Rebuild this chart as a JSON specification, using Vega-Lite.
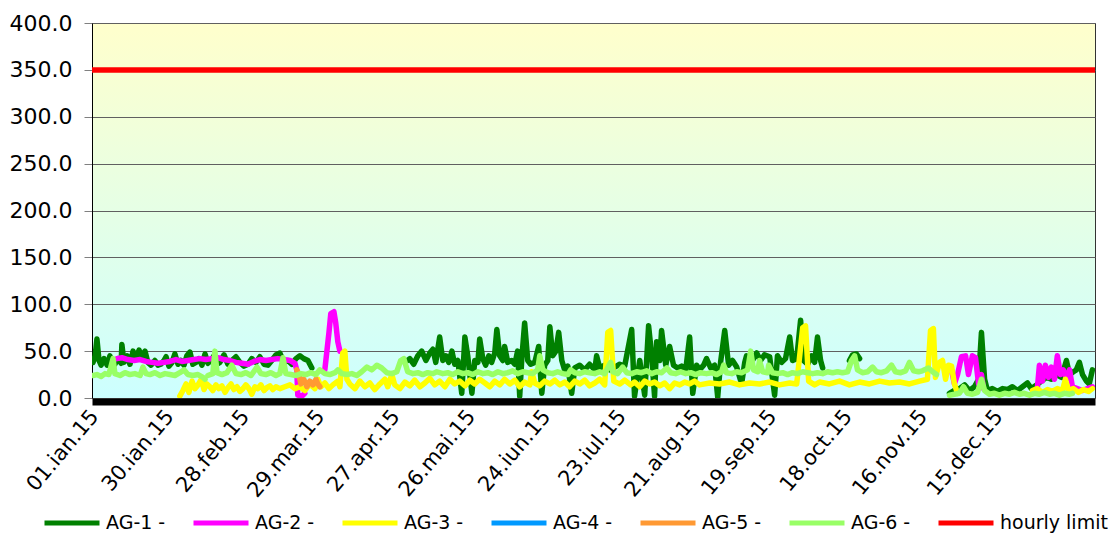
{
"$schema":"https://vega.github.io/schema/vega-lite/v6.json",
"width":1003,"height":375,
"autosize":{"type":"none"},
"padding":{"left":92,"top":23,"right":21,"bottom":135},
"background":"#ffffff",
"config":{
 "view":{"fill":{"gradient":"linear","x1":0,"y1":0,"x2":0,"y2":1,"stops":[{"offset":0,"color":"#FFFFCC"},{"offset":1,"color":"#CCFFFF"}]},"stroke":"#333333","strokeWidth":1},
 "font":"DejaVu Sans",
 "axis":{"labelFont":"DejaVu Sans","labelColor":"#000000","titleFont":"DejaVu Sans"}
},
"data":{"values":[
{"series":"AG-1 -","seg":"1a","day":0.4,"value":38},{"series":"AG-1 -","seg":"1a","day":1.2,"value":45},{"series":"AG-1 -","seg":"1a","day":1.9,"value":63},{"series":"AG-1 -","seg":"1a","day":2.7,"value":40},{"series":"AG-1 -","seg":"1a","day":3.5,"value":35},{"series":"AG-1 -","seg":"1a","day":4.6,"value":42},{"series":"AG-1 -","seg":"1a","day":5.8,"value":35},{"series":"AG-1 -","seg":"1a","day":6.9,"value":45},{"series":"AG-1 -","seg":"1a","day":7.7,"value":38},{"series":"AG-1 -","seg":"1a","day":8.8,"value":36},{"series":"AG-1 -","seg":"1a","day":10.0,"value":42},{"series":"AG-1 -","seg":"1a","day":11.2,"value":37},{"series":"AG-1 -","seg":"1a","day":11.5,"value":57},{"series":"AG-1 -","seg":"1a","day":12.3,"value":38},{"series":"AG-1 -","seg":"1a","day":13.5,"value":45},{"series":"AG-1 -","seg":"1a","day":14.6,"value":36},{"series":"AG-1 -","seg":"1a","day":15.8,"value":50},{"series":"AG-1 -","seg":"1a","day":16.9,"value":42},{"series":"AG-1 -","seg":"1a","day":18.1,"value":51},{"series":"AG-1 -","seg":"1a","day":19.2,"value":44},{"series":"AG-1 -","seg":"1a","day":20.4,"value":50},{"series":"AG-1 -","seg":"1a","day":21.5,"value":38},{"series":"AG-1 -","seg":"1a","day":22.7,"value":35},{"series":"AG-1 -","seg":"1a","day":24.2,"value":40},{"series":"AG-1 -","seg":"1a","day":25.4,"value":35},{"series":"AG-1 -","seg":"1a","day":26.5,"value":36},{"series":"AG-1 -","seg":"1a","day":27.7,"value":40},{"series":"AG-1 -","seg":"1a","day":28.5,"value":44},{"series":"AG-1 -","seg":"1a","day":29.6,"value":34},{"series":"AG-1 -","seg":"1a","day":30.8,"value":38},{"series":"AG-1 -","seg":"1a","day":31.9,"value":47},{"series":"AG-1 -","seg":"1a","day":33.1,"value":36},{"series":"AG-1 -","seg":"1a","day":34.2,"value":40},{"series":"AG-1 -","seg":"1a","day":35.4,"value":35},{"series":"AG-1 -","seg":"1a","day":36.5,"value":45},{"series":"AG-1 -","seg":"1a","day":37.7,"value":49},{"series":"AG-1 -","seg":"1a","day":38.8,"value":36},{"series":"AG-1 -","seg":"1a","day":40.0,"value":38},{"series":"AG-1 -","seg":"1a","day":41.2,"value":42},{"series":"AG-1 -","seg":"1a","day":42.3,"value":35},{"series":"AG-1 -","seg":"1a","day":43.5,"value":47},{"series":"AG-1 -","seg":"1a","day":44.6,"value":37},{"series":"AG-1 -","seg":"1a","day":45.8,"value":40},{"series":"AG-1 -","seg":"1a","day":46.9,"value":45},{"series":"AG-1 -","seg":"1a","day":48.1,"value":36},{"series":"AG-1 -","seg":"1a","day":49.2,"value":38},{"series":"AG-1 -","seg":"1a","day":50.8,"value":46},{"series":"AG-1 -","seg":"1a","day":52.3,"value":36},{"series":"AG-1 -","seg":"1a","day":53.8,"value":40},{"series":"AG-1 -","seg":"1a","day":55.4,"value":44},{"series":"AG-1 -","seg":"1a","day":56.9,"value":38},{"series":"AG-1 -","seg":"1a","day":58.5,"value":34},{"series":"AG-1 -","seg":"1a","day":60.0,"value":36},{"series":"AG-1 -","seg":"1a","day":61.5,"value":42},{"series":"AG-1 -","seg":"1a","day":63.1,"value":38},{"series":"AG-1 -","seg":"1a","day":64.6,"value":44},{"series":"AG-1 -","seg":"1a","day":66.2,"value":36},{"series":"AG-1 -","seg":"1a","day":67.7,"value":35},{"series":"AG-1 -","seg":"1a","day":69.2,"value":40},{"series":"AG-1 -","seg":"1a","day":70.8,"value":46},{"series":"AG-1 -","seg":"1a","day":72.3,"value":48},{"series":"AG-1 -","seg":"1a","day":73.8,"value":38},{"series":"AG-1 -","seg":"1a","day":75.4,"value":40},{"series":"AG-1 -","seg":"1a","day":76.9,"value":36},{"series":"AG-1 -","seg":"1a","day":78.5,"value":42},{"series":"AG-1 -","seg":"1a","day":80.0,"value":45},{"series":"AG-1 -","seg":"1a","day":81.5,"value":42},{"series":"AG-1 -","seg":"1a","day":83.1,"value":40},{"series":"AG-1 -","seg":"1a","day":84.6,"value":32},
{"series":"AG-1 -","seg":"1b","day":120.4,"value":38},{"series":"AG-1 -","seg":"1b","day":122.3,"value":42},{"series":"AG-1 -","seg":"1b","day":123.8,"value":36},{"series":"AG-1 -","seg":"1b","day":125.4,"value":45},{"series":"AG-1 -","seg":"1b","day":126.9,"value":50},{"series":"AG-1 -","seg":"1b","day":128.5,"value":40},{"series":"AG-1 -","seg":"1b","day":130.0,"value":48},{"series":"AG-1 -","seg":"1b","day":131.2,"value":52},{"series":"AG-1 -","seg":"1b","day":132.3,"value":38},{"series":"AG-1 -","seg":"1b","day":133.8,"value":65},{"series":"AG-1 -","seg":"1b","day":135.0,"value":40},{"series":"AG-1 -","seg":"1b","day":136.2,"value":45},{"series":"AG-1 -","seg":"1b","day":137.3,"value":38},{"series":"AG-1 -","seg":"1b","day":138.5,"value":50},{"series":"AG-1 -","seg":"1b","day":139.6,"value":36},{"series":"AG-1 -","seg":"1b","day":140.8,"value":40},{"series":"AG-1 -","seg":"1b","day":142.3,"value":5},{"series":"AG-1 -","seg":"1b","day":143.5,"value":65},{"series":"AG-1 -","seg":"1b","day":144.6,"value":45},{"series":"AG-1 -","seg":"1b","day":146.2,"value":5},{"series":"AG-1 -","seg":"1b","day":147.3,"value":40},{"series":"AG-1 -","seg":"1b","day":148.5,"value":38},{"series":"AG-1 -","seg":"1b","day":149.2,"value":63},{"series":"AG-1 -","seg":"1b","day":150.4,"value":42},{"series":"AG-1 -","seg":"1b","day":151.5,"value":35},{"series":"AG-1 -","seg":"1b","day":152.7,"value":45},{"series":"AG-1 -","seg":"1b","day":153.8,"value":38},{"series":"AG-1 -","seg":"1b","day":155.0,"value":48},{"series":"AG-1 -","seg":"1b","day":155.8,"value":73},{"series":"AG-1 -","seg":"1b","day":156.9,"value":45},{"series":"AG-1 -","seg":"1b","day":158.1,"value":40},{"series":"AG-1 -","seg":"1b","day":158.8,"value":55},{"series":"AG-1 -","seg":"1b","day":160.0,"value":38},{"series":"AG-1 -","seg":"1b","day":161.5,"value":40},{"series":"AG-1 -","seg":"1b","day":162.7,"value":36},{"series":"AG-1 -","seg":"1b","day":163.8,"value":50},{"series":"AG-1 -","seg":"1b","day":164.6,"value":2},{"series":"AG-1 -","seg":"1b","day":165.4,"value":42},{"series":"AG-1 -","seg":"1b","day":166.5,"value":80},{"series":"AG-1 -","seg":"1b","day":167.7,"value":40},{"series":"AG-1 -","seg":"1b","day":168.8,"value":36},{"series":"AG-1 -","seg":"1b","day":170.4,"value":38},{"series":"AG-1 -","seg":"1b","day":171.9,"value":55},{"series":"AG-1 -","seg":"1b","day":173.1,"value":5},{"series":"AG-1 -","seg":"1b","day":174.2,"value":35},{"series":"AG-1 -","seg":"1b","day":175.4,"value":40},{"series":"AG-1 -","seg":"1b","day":176.2,"value":76},{"series":"AG-1 -","seg":"1b","day":177.3,"value":45},{"series":"AG-1 -","seg":"1b","day":178.5,"value":50},{"series":"AG-1 -","seg":"1b","day":179.6,"value":70},{"series":"AG-1 -","seg":"1b","day":180.8,"value":40},{"series":"AG-1 -","seg":"1b","day":181.9,"value":30},{"series":"AG-1 -","seg":"1b","day":183.1,"value":34},{"series":"AG-1 -","seg":"1b","day":184.6,"value":5},{"series":"AG-1 -","seg":"1b","day":185.8,"value":32},{"series":"AG-1 -","seg":"1b","day":187.7,"value":35},{"series":"AG-1 -","seg":"1b","day":189.6,"value":30},{"series":"AG-1 -","seg":"1b","day":191.5,"value":36},{"series":"AG-1 -","seg":"1b","day":193.5,"value":30},{"series":"AG-1 -","seg":"1b","day":194.2,"value":45},{"series":"AG-1 -","seg":"1b","day":195.4,"value":32},{"series":"AG-1 -","seg":"1b","day":197.3,"value":35},{"series":"AG-1 -","seg":"1b","day":199.2,"value":30},{"series":"AG-1 -","seg":"1b","day":201.2,"value":33},{"series":"AG-1 -","seg":"1b","day":203.1,"value":36},{"series":"AG-1 -","seg":"1b","day":205.0,"value":34},{"series":"AG-1 -","seg":"1b","day":207.7,"value":73},{"series":"AG-1 -","seg":"1b","day":208.8,"value":2},{"series":"AG-1 -","seg":"1b","day":210.8,"value":40},{"series":"AG-1 -","seg":"1b","day":212.7,"value":3},{"series":"AG-1 -","seg":"1b","day":214.2,"value":77},{"series":"AG-1 -","seg":"1b","day":215.4,"value":45},{"series":"AG-1 -","seg":"1b","day":216.5,"value":2},{"series":"AG-1 -","seg":"1b","day":217.3,"value":60},{"series":"AG-1 -","seg":"1b","day":218.5,"value":40},{"series":"AG-1 -","seg":"1b","day":219.2,"value":72},{"series":"AG-1 -","seg":"1b","day":220.8,"value":35},{"series":"AG-1 -","seg":"1b","day":222.3,"value":55},{"series":"AG-1 -","seg":"1b","day":223.8,"value":35},{"series":"AG-1 -","seg":"1b","day":225.4,"value":32},{"series":"AG-1 -","seg":"1b","day":226.9,"value":34},{"series":"AG-1 -","seg":"1b","day":228.5,"value":30},{"series":"AG-1 -","seg":"1b","day":230.0,"value":65},{"series":"AG-1 -","seg":"1b","day":231.2,"value":5},{"series":"AG-1 -","seg":"1b","day":232.7,"value":35},{"series":"AG-1 -","seg":"1b","day":233.8,"value":30},{"series":"AG-1 -","seg":"1b","day":235.4,"value":35},{"series":"AG-1 -","seg":"1b","day":236.5,"value":42},{"series":"AG-1 -","seg":"1b","day":238.1,"value":32},{"series":"AG-1 -","seg":"1b","day":239.6,"value":35},{"series":"AG-1 -","seg":"1b","day":240.8,"value":1},{"series":"AG-1 -","seg":"1b","day":241.9,"value":38},{"series":"AG-1 -","seg":"1b","day":243.5,"value":72},{"series":"AG-1 -","seg":"1b","day":245.0,"value":35},{"series":"AG-1 -","seg":"1b","day":246.5,"value":40},{"series":"AG-1 -","seg":"1b","day":248.1,"value":33},{"series":"AG-1 -","seg":"1b","day":250.0,"value":15},{"series":"AG-1 -","seg":"1b","day":251.2,"value":38},{"series":"AG-1 -","seg":"1b","day":251.9,"value":45},{"series":"AG-1 -","seg":"1b","day":253.1,"value":35},{"series":"AG-1 -","seg":"1b","day":254.6,"value":42},{"series":"AG-1 -","seg":"1b","day":255.8,"value":48},{"series":"AG-1 -","seg":"1b","day":257.3,"value":40},{"series":"AG-1 -","seg":"1b","day":258.8,"value":46},{"series":"AG-1 -","seg":"1b","day":260.8,"value":44},{"series":"AG-1 -","seg":"1b","day":262.7,"value":3},{"series":"AG-1 -","seg":"1b","day":263.8,"value":45},{"series":"AG-1 -","seg":"1b","day":265.4,"value":38},{"series":"AG-1 -","seg":"1b","day":266.9,"value":42},{"series":"AG-1 -","seg":"1b","day":268.5,"value":65},{"series":"AG-1 -","seg":"1b","day":269.6,"value":40},{"series":"AG-1 -","seg":"1b","day":271.2,"value":42},{"series":"AG-1 -","seg":"1b","day":272.7,"value":83},{"series":"AG-1 -","seg":"1b","day":273.8,"value":40},{"series":"AG-1 -","seg":"1b","day":275.4,"value":36},{"series":"AG-1 -","seg":"1b","day":276.9,"value":45},{"series":"AG-1 -","seg":"1b","day":278.1,"value":38},{"series":"AG-1 -","seg":"1b","day":279.2,"value":65},{"series":"AG-1 -","seg":"1b","day":280.4,"value":40},{"series":"AG-1 -","seg":"1b","day":281.2,"value":32},
{"series":"AG-1 -","seg":"1c","day":291.5,"value":40},{"series":"AG-1 -","seg":"1c","day":292.7,"value":46},{"series":"AG-1 -","seg":"1c","day":294.2,"value":47},{"series":"AG-1 -","seg":"1c","day":295.4,"value":42},
{"series":"AG-1 -","seg":"1d","day":330.0,"value":5},{"series":"AG-1 -","seg":"1d","day":331.9,"value":8},{"series":"AG-1 -","seg":"1d","day":333.8,"value":10},{"series":"AG-1 -","seg":"1d","day":335.8,"value":14},{"series":"AG-1 -","seg":"1d","day":337.7,"value":8},{"series":"AG-1 -","seg":"1d","day":339.6,"value":12},{"series":"AG-1 -","seg":"1d","day":341.2,"value":20},{"series":"AG-1 -","seg":"1d","day":342.3,"value":70},{"series":"AG-1 -","seg":"1d","day":343.5,"value":20},{"series":"AG-1 -","seg":"1d","day":344.6,"value":8},{"series":"AG-1 -","seg":"1d","day":346.5,"value":10},{"series":"AG-1 -","seg":"1d","day":348.5,"value":7},{"series":"AG-1 -","seg":"1d","day":350.4,"value":10},{"series":"AG-1 -","seg":"1d","day":352.3,"value":9},{"series":"AG-1 -","seg":"1d","day":354.2,"value":12},{"series":"AG-1 -","seg":"1d","day":356.2,"value":8},{"series":"AG-1 -","seg":"1d","day":358.1,"value":12},{"series":"AG-1 -","seg":"1d","day":360.0,"value":16},{"series":"AG-1 -","seg":"1d","day":361.5,"value":10},{"series":"AG-1 -","seg":"1d","day":363.5,"value":14},{"series":"AG-1 -","seg":"1d","day":365.4,"value":18},{"series":"AG-1 -","seg":"1d","day":367.3,"value":22},{"series":"AG-1 -","seg":"1d","day":369.2,"value":20},{"series":"AG-1 -","seg":"1d","day":371.2,"value":25},{"series":"AG-1 -","seg":"1d","day":373.1,"value":22},{"series":"AG-1 -","seg":"1d","day":375.0,"value":40},{"series":"AG-1 -","seg":"1d","day":376.2,"value":25},{"series":"AG-1 -","seg":"1d","day":377.7,"value":28},{"series":"AG-1 -","seg":"1d","day":378.8,"value":30},{"series":"AG-1 -","seg":"1d","day":380.0,"value":38},{"series":"AG-1 -","seg":"1d","day":381.2,"value":25},{"series":"AG-1 -","seg":"1d","day":382.7,"value":18},{"series":"AG-1 -","seg":"1d","day":383.8,"value":15},{"series":"AG-1 -","seg":"1d","day":385.0,"value":30},
{"series":"AG-2 -","seg":"2a","day":9.6,"value":42},{"series":"AG-2 -","seg":"2a","day":11.5,"value":43},{"series":"AG-2 -","seg":"2a","day":13.8,"value":41},{"series":"AG-2 -","seg":"2a","day":16.2,"value":40},{"series":"AG-2 -","seg":"2a","day":18.5,"value":41},{"series":"AG-2 -","seg":"2a","day":20.8,"value":39},{"series":"AG-2 -","seg":"2a","day":23.1,"value":38},{"series":"AG-2 -","seg":"2a","day":25.4,"value":37},{"series":"AG-2 -","seg":"2a","day":27.7,"value":38},{"series":"AG-2 -","seg":"2a","day":30.0,"value":39},{"series":"AG-2 -","seg":"2a","day":32.3,"value":41},{"series":"AG-2 -","seg":"2a","day":34.6,"value":39},{"series":"AG-2 -","seg":"2a","day":36.9,"value":40},{"series":"AG-2 -","seg":"2a","day":39.2,"value":41},{"series":"AG-2 -","seg":"2a","day":41.5,"value":42},{"series":"AG-2 -","seg":"2a","day":43.8,"value":41},{"series":"AG-2 -","seg":"2a","day":46.2,"value":42},{"series":"AG-2 -","seg":"2a","day":48.5,"value":43},{"series":"AG-2 -","seg":"2a","day":50.8,"value":41},{"series":"AG-2 -","seg":"2a","day":53.1,"value":40},{"series":"AG-2 -","seg":"2a","day":55.4,"value":38},{"series":"AG-2 -","seg":"2a","day":57.7,"value":37},{"series":"AG-2 -","seg":"2a","day":60.0,"value":36},{"series":"AG-2 -","seg":"2a","day":62.3,"value":39},{"series":"AG-2 -","seg":"2a","day":64.6,"value":41},{"series":"AG-2 -","seg":"2a","day":66.9,"value":40},{"series":"AG-2 -","seg":"2a","day":69.2,"value":41},{"series":"AG-2 -","seg":"2a","day":71.5,"value":42},{"series":"AG-2 -","seg":"2a","day":73.8,"value":41},{"series":"AG-2 -","seg":"2a","day":76.2,"value":40},{"series":"AG-2 -","seg":"2a","day":78.1,"value":37},{"series":"AG-2 -","seg":"2a","day":78.8,"value":30},{"series":"AG-2 -","seg":"2a","day":79.2,"value":3},{"series":"AG-2 -","seg":"2a","day":80.8,"value":2},{"series":"AG-2 -","seg":"2a","day":81.9,"value":5},
{"series":"AG-2 -","seg":"2b","day":89.6,"value":30},{"series":"AG-2 -","seg":"2b","day":91.2,"value":70},{"series":"AG-2 -","seg":"2b","day":91.9,"value":90},{"series":"AG-2 -","seg":"2b","day":93.1,"value":92},{"series":"AG-2 -","seg":"2b","day":93.8,"value":80},{"series":"AG-2 -","seg":"2b","day":94.6,"value":60},{"series":"AG-2 -","seg":"2b","day":95.4,"value":50},
{"series":"AG-2 -","seg":"2c","day":330.8,"value":30},{"series":"AG-2 -","seg":"2c","day":331.9,"value":15},{"series":"AG-2 -","seg":"2c","day":333.1,"value":25},{"series":"AG-2 -","seg":"2c","day":334.6,"value":44},{"series":"AG-2 -","seg":"2c","day":336.2,"value":45},{"series":"AG-2 -","seg":"2c","day":337.3,"value":25},{"series":"AG-2 -","seg":"2c","day":338.8,"value":45},{"series":"AG-2 -","seg":"2c","day":340.0,"value":43},{"series":"AG-2 -","seg":"2c","day":341.2,"value":15},{"series":"AG-2 -","seg":"2c","day":342.3,"value":25},{"series":"AG-2 -","seg":"2c","day":343.1,"value":10},
{"series":"AG-2 -","seg":"2d","day":363.8,"value":10},{"series":"AG-2 -","seg":"2d","day":364.6,"value":35},{"series":"AG-2 -","seg":"2d","day":365.8,"value":18},{"series":"AG-2 -","seg":"2d","day":366.9,"value":35},{"series":"AG-2 -","seg":"2d","day":368.1,"value":22},{"series":"AG-2 -","seg":"2d","day":369.2,"value":33},{"series":"AG-2 -","seg":"2d","day":370.4,"value":20},{"series":"AG-2 -","seg":"2d","day":371.5,"value":45},{"series":"AG-2 -","seg":"2d","day":372.7,"value":25},{"series":"AG-2 -","seg":"2d","day":373.8,"value":30},{"series":"AG-2 -","seg":"2d","day":375.0,"value":20},{"series":"AG-2 -","seg":"2d","day":376.2,"value":30},{"series":"AG-2 -","seg":"2d","day":377.3,"value":12},{"series":"AG-2 -","seg":"2d","day":379.2,"value":10},{"series":"AG-2 -","seg":"2d","day":381.2,"value":8},{"series":"AG-2 -","seg":"2d","day":383.1,"value":10},{"series":"AG-2 -","seg":"2d","day":385.0,"value":12},
{"series":"AG-3 -","seg":"3a","day":33.8,"value":2},{"series":"AG-3 -","seg":"3a","day":35.0,"value":8},{"series":"AG-3 -","seg":"3a","day":36.2,"value":15},{"series":"AG-3 -","seg":"3a","day":37.3,"value":6},{"series":"AG-3 -","seg":"3a","day":38.5,"value":18},{"series":"AG-3 -","seg":"3a","day":39.6,"value":10},{"series":"AG-3 -","seg":"3a","day":40.8,"value":14},{"series":"AG-3 -","seg":"3a","day":42.1,"value":20},{"series":"AG-3 -","seg":"3a","day":43.1,"value":9},{"series":"AG-3 -","seg":"3a","day":44.2,"value":15},{"series":"AG-3 -","seg":"3a","day":45.4,"value":12},{"series":"AG-3 -","seg":"3a","day":46.5,"value":8},{"series":"AG-3 -","seg":"3a","day":47.7,"value":14},{"series":"AG-3 -","seg":"3a","day":48.8,"value":10},{"series":"AG-3 -","seg":"3a","day":50.0,"value":13},{"series":"AG-3 -","seg":"3a","day":51.2,"value":6},{"series":"AG-3 -","seg":"3a","day":52.3,"value":11},{"series":"AG-3 -","seg":"3a","day":53.5,"value":15},{"series":"AG-3 -","seg":"3a","day":54.6,"value":9},{"series":"AG-3 -","seg":"3a","day":55.8,"value":12},{"series":"AG-3 -","seg":"3a","day":56.9,"value":7},{"series":"AG-3 -","seg":"3a","day":58.1,"value":10},{"series":"AG-3 -","seg":"3a","day":59.2,"value":14},{"series":"AG-3 -","seg":"3a","day":60.4,"value":10},{"series":"AG-3 -","seg":"3a","day":61.5,"value":4},{"series":"AG-3 -","seg":"3a","day":62.7,"value":12},{"series":"AG-3 -","seg":"3a","day":63.8,"value":10},{"series":"AG-3 -","seg":"3a","day":65.0,"value":14},{"series":"AG-3 -","seg":"3a","day":66.2,"value":8},{"series":"AG-3 -","seg":"3a","day":67.3,"value":11},{"series":"AG-3 -","seg":"3a","day":68.5,"value":13},{"series":"AG-3 -","seg":"3a","day":69.6,"value":9},{"series":"AG-3 -","seg":"3a","day":70.8,"value":12},{"series":"AG-3 -","seg":"3a","day":72.3,"value":10},{"series":"AG-3 -","seg":"3a","day":74.2,"value":12},{"series":"AG-3 -","seg":"3a","day":76.2,"value":14},{"series":"AG-3 -","seg":"3a","day":78.1,"value":10},{"series":"AG-3 -","seg":"3a","day":80.0,"value":12},{"series":"AG-3 -","seg":"3a","day":81.9,"value":8},{"series":"AG-3 -","seg":"3a","day":83.8,"value":15},{"series":"AG-3 -","seg":"3a","day":85.8,"value":10},{"series":"AG-3 -","seg":"3a","day":86.9,"value":20},{"series":"AG-3 -","seg":"3a","day":88.1,"value":12},{"series":"AG-3 -","seg":"3a","day":89.6,"value":16},{"series":"AG-3 -","seg":"3a","day":91.2,"value":10},{"series":"AG-3 -","seg":"3a","day":92.7,"value":14},{"series":"AG-3 -","seg":"3a","day":94.6,"value":18},{"series":"AG-3 -","seg":"3a","day":95.4,"value":12},{"series":"AG-3 -","seg":"3a","day":96.5,"value":48},{"series":"AG-3 -","seg":"3a","day":97.3,"value":50},{"series":"AG-3 -","seg":"3a","day":98.1,"value":20},{"series":"AG-3 -","seg":"3a","day":99.2,"value":15},{"series":"AG-3 -","seg":"3a","day":101.2,"value":10},{"series":"AG-3 -","seg":"3a","day":103.1,"value":18},{"series":"AG-3 -","seg":"3a","day":105.0,"value":12},{"series":"AG-3 -","seg":"3a","day":106.9,"value":16},{"series":"AG-3 -","seg":"3a","day":108.8,"value":9},{"series":"AG-3 -","seg":"3a","day":110.8,"value":15},{"series":"AG-3 -","seg":"3a","day":112.7,"value":20},{"series":"AG-3 -","seg":"3a","day":113.8,"value":12},{"series":"AG-3 -","seg":"3a","day":115.4,"value":25},{"series":"AG-3 -","seg":"3a","day":116.5,"value":14},{"series":"AG-3 -","seg":"3a","day":118.5,"value":10},{"series":"AG-3 -","seg":"3a","day":120.4,"value":17},{"series":"AG-3 -","seg":"3a","day":122.3,"value":13},{"series":"AG-3 -","seg":"3a","day":124.2,"value":19},{"series":"AG-3 -","seg":"3a","day":126.2,"value":12},{"series":"AG-3 -","seg":"3a","day":128.1,"value":16},{"series":"AG-3 -","seg":"3a","day":130.0,"value":21},{"series":"AG-3 -","seg":"3a","day":131.9,"value":14},{"series":"AG-3 -","seg":"3a","day":133.8,"value":18},{"series":"AG-3 -","seg":"3a","day":135.8,"value":12},{"series":"AG-3 -","seg":"3a","day":137.7,"value":20},{"series":"AG-3 -","seg":"3a","day":139.6,"value":15},{"series":"AG-3 -","seg":"3a","day":141.5,"value":18},{"series":"AG-3 -","seg":"3a","day":143.5,"value":13},{"series":"AG-3 -","seg":"3a","day":145.4,"value":19},{"series":"AG-3 -","seg":"3a","day":147.3,"value":15},{"series":"AG-3 -","seg":"3a","day":149.2,"value":20},{"series":"AG-3 -","seg":"3a","day":151.2,"value":16},{"series":"AG-3 -","seg":"3a","day":153.1,"value":12},{"series":"AG-3 -","seg":"3a","day":155.0,"value":18},{"series":"AG-3 -","seg":"3a","day":156.9,"value":14},{"series":"AG-3 -","seg":"3a","day":158.8,"value":20},{"series":"AG-3 -","seg":"3a","day":160.8,"value":15},{"series":"AG-3 -","seg":"3a","day":162.7,"value":19},{"series":"AG-3 -","seg":"3a","day":164.6,"value":12},{"series":"AG-3 -","seg":"3a","day":166.5,"value":17},{"series":"AG-3 -","seg":"3a","day":168.5,"value":14},{"series":"AG-3 -","seg":"3a","day":169.2,"value":28},{"series":"AG-3 -","seg":"3a","day":170.4,"value":16},{"series":"AG-3 -","seg":"3a","day":172.3,"value":13},{"series":"AG-3 -","seg":"3a","day":174.2,"value":18},{"series":"AG-3 -","seg":"3a","day":176.2,"value":15},{"series":"AG-3 -","seg":"3a","day":178.1,"value":19},{"series":"AG-3 -","seg":"3a","day":180.0,"value":14},{"series":"AG-3 -","seg":"3a","day":181.9,"value":17},{"series":"AG-3 -","seg":"3a","day":183.8,"value":12},{"series":"AG-3 -","seg":"3a","day":185.8,"value":18},{"series":"AG-3 -","seg":"3a","day":187.7,"value":15},{"series":"AG-3 -","seg":"3a","day":189.6,"value":19},{"series":"AG-3 -","seg":"3a","day":191.5,"value":13},{"series":"AG-3 -","seg":"3a","day":193.5,"value":16},{"series":"AG-3 -","seg":"3a","day":195.4,"value":20},{"series":"AG-3 -","seg":"3a","day":197.3,"value":14},{"series":"AG-3 -","seg":"3a","day":198.5,"value":70},{"series":"AG-3 -","seg":"3a","day":199.6,"value":72},{"series":"AG-3 -","seg":"3a","day":200.8,"value":18},{"series":"AG-3 -","seg":"3a","day":203.1,"value":15},{"series":"AG-3 -","seg":"3a","day":205.0,"value":19},{"series":"AG-3 -","seg":"3a","day":207.3,"value":14},{"series":"AG-3 -","seg":"3a","day":208.8,"value":17},{"series":"AG-3 -","seg":"3a","day":210.8,"value":12},{"series":"AG-3 -","seg":"3a","day":212.7,"value":18},{"series":"AG-3 -","seg":"3a","day":214.6,"value":15},{"series":"AG-3 -","seg":"3a","day":216.5,"value":17},{"series":"AG-3 -","seg":"3a","day":218.5,"value":13},{"series":"AG-3 -","seg":"3a","day":220.4,"value":16},{"series":"AG-3 -","seg":"3a","day":222.3,"value":10},{"series":"AG-3 -","seg":"3a","day":224.2,"value":16},{"series":"AG-3 -","seg":"3a","day":226.2,"value":14},{"series":"AG-3 -","seg":"3a","day":228.1,"value":17},{"series":"AG-3 -","seg":"3a","day":230.0,"value":15},{"series":"AG-3 -","seg":"3a","day":231.9,"value":18},{"series":"AG-3 -","seg":"3a","day":233.8,"value":14},{"series":"AG-3 -","seg":"3a","day":237.7,"value":16},{"series":"AG-3 -","seg":"3a","day":241.5,"value":15},{"series":"AG-3 -","seg":"3a","day":245.4,"value":17},{"series":"AG-3 -","seg":"3a","day":249.2,"value":14},{"series":"AG-3 -","seg":"3a","day":253.1,"value":16},{"series":"AG-3 -","seg":"3a","day":256.9,"value":15},{"series":"AG-3 -","seg":"3a","day":260.8,"value":17},{"series":"AG-3 -","seg":"3a","day":264.6,"value":14},{"series":"AG-3 -","seg":"3a","day":268.5,"value":16},{"series":"AG-3 -","seg":"3a","day":271.2,"value":15},{"series":"AG-3 -","seg":"3a","day":273.5,"value":75},{"series":"AG-3 -","seg":"3a","day":274.6,"value":77},{"series":"AG-3 -","seg":"3a","day":275.8,"value":18},{"series":"AG-3 -","seg":"3a","day":278.1,"value":14},{"series":"AG-3 -","seg":"3a","day":280.0,"value":17},{"series":"AG-3 -","seg":"3a","day":283.8,"value":15},{"series":"AG-3 -","seg":"3a","day":287.7,"value":18},{"series":"AG-3 -","seg":"3a","day":291.5,"value":14},{"series":"AG-3 -","seg":"3a","day":295.4,"value":17},{"series":"AG-3 -","seg":"3a","day":299.2,"value":15},{"series":"AG-3 -","seg":"3a","day":303.1,"value":18},{"series":"AG-3 -","seg":"3a","day":306.9,"value":16},{"series":"AG-3 -","seg":"3a","day":310.8,"value":17},{"series":"AG-3 -","seg":"3a","day":314.6,"value":15},{"series":"AG-3 -","seg":"3a","day":318.5,"value":18},{"series":"AG-3 -","seg":"3a","day":321.5,"value":20},{"series":"AG-3 -","seg":"3a","day":322.7,"value":72},{"series":"AG-3 -","seg":"3a","day":323.8,"value":74},{"series":"AG-3 -","seg":"3a","day":324.6,"value":22},{"series":"AG-3 -","seg":"3a","day":326.2,"value":38},{"series":"AG-3 -","seg":"3a","day":327.3,"value":40},{"series":"AG-3 -","seg":"3a","day":328.5,"value":20},{"series":"AG-3 -","seg":"3a","day":329.6,"value":35},{"series":"AG-3 -","seg":"3a","day":330.8,"value":34},{"series":"AG-3 -","seg":"3a","day":331.9,"value":15},{"series":"AG-3 -","seg":"3a","day":333.1,"value":5},
{"series":"AG-3 -","seg":"3b","day":361.9,"value":8},{"series":"AG-3 -","seg":"3b","day":363.8,"value":10},{"series":"AG-3 -","seg":"3b","day":365.8,"value":6},{"series":"AG-3 -","seg":"3b","day":367.7,"value":9},{"series":"AG-3 -","seg":"3b","day":369.6,"value":7},{"series":"AG-3 -","seg":"3b","day":371.5,"value":10},{"series":"AG-3 -","seg":"3b","day":373.5,"value":8},{"series":"AG-3 -","seg":"3b","day":374.6,"value":20},{"series":"AG-3 -","seg":"3b","day":375.8,"value":8},{"series":"AG-3 -","seg":"3b","day":377.7,"value":10},{"series":"AG-3 -","seg":"3b","day":379.6,"value":6},{"series":"AG-3 -","seg":"3b","day":381.5,"value":9},{"series":"AG-3 -","seg":"3b","day":383.5,"value":7},{"series":"AG-3 -","seg":"3b","day":385.0,"value":10},
{"series":"AG-5 -","seg":"5a","day":78.8,"value":30},{"series":"AG-5 -","seg":"5a","day":79.6,"value":25},{"series":"AG-5 -","seg":"5a","day":80.4,"value":15},{"series":"AG-5 -","seg":"5a","day":81.5,"value":20},{"series":"AG-5 -","seg":"5a","day":82.7,"value":12},{"series":"AG-5 -","seg":"5a","day":83.8,"value":18},{"series":"AG-5 -","seg":"5a","day":85.0,"value":14},{"series":"AG-5 -","seg":"5a","day":86.2,"value":20},{"series":"AG-5 -","seg":"5a","day":86.9,"value":15},{"series":"AG-5 -","seg":"5a","day":87.7,"value":12},
{"series":"AG-6 -","seg":"6a","day":0.4,"value":24},{"series":"AG-6 -","seg":"6a","day":1.9,"value":25},{"series":"AG-6 -","seg":"6a","day":3.5,"value":23},{"series":"AG-6 -","seg":"6a","day":5.0,"value":26},{"series":"AG-6 -","seg":"6a","day":6.5,"value":25},{"series":"AG-6 -","seg":"6a","day":8.1,"value":42},{"series":"AG-6 -","seg":"6a","day":8.8,"value":26},{"series":"AG-6 -","seg":"6a","day":10.8,"value":24},{"series":"AG-6 -","seg":"6a","day":12.7,"value":27},{"series":"AG-6 -","seg":"6a","day":14.6,"value":25},{"series":"AG-6 -","seg":"6a","day":16.5,"value":26},{"series":"AG-6 -","seg":"6a","day":18.5,"value":24},{"series":"AG-6 -","seg":"6a","day":19.6,"value":33},{"series":"AG-6 -","seg":"6a","day":20.8,"value":26},{"series":"AG-6 -","seg":"6a","day":22.3,"value":25},{"series":"AG-6 -","seg":"6a","day":24.2,"value":27},{"series":"AG-6 -","seg":"6a","day":26.2,"value":24},{"series":"AG-6 -","seg":"6a","day":28.1,"value":26},{"series":"AG-6 -","seg":"6a","day":30.0,"value":25},{"series":"AG-6 -","seg":"6a","day":31.9,"value":24},{"series":"AG-6 -","seg":"6a","day":33.8,"value":27},{"series":"AG-6 -","seg":"6a","day":35.4,"value":30},{"series":"AG-6 -","seg":"6a","day":36.9,"value":25},{"series":"AG-6 -","seg":"6a","day":38.8,"value":24},{"series":"AG-6 -","seg":"6a","day":40.8,"value":25},{"series":"AG-6 -","seg":"6a","day":42.7,"value":22},{"series":"AG-6 -","seg":"6a","day":43.5,"value":20},
{"series":"AG-6 -","seg":"6b","day":44.6,"value":24},{"series":"AG-6 -","seg":"6b","day":46.5,"value":26},{"series":"AG-6 -","seg":"6b","day":47.3,"value":50},{"series":"AG-6 -","seg":"6b","day":48.1,"value":27},{"series":"AG-6 -","seg":"6b","day":50.0,"value":25},{"series":"AG-6 -","seg":"6b","day":51.9,"value":27},{"series":"AG-6 -","seg":"6b","day":53.8,"value":35},{"series":"AG-6 -","seg":"6b","day":55.4,"value":26},{"series":"AG-6 -","seg":"6b","day":57.3,"value":25},{"series":"AG-6 -","seg":"6b","day":59.2,"value":27},{"series":"AG-6 -","seg":"6b","day":61.2,"value":24},{"series":"AG-6 -","seg":"6b","day":63.5,"value":33},{"series":"AG-6 -","seg":"6b","day":65.0,"value":26},{"series":"AG-6 -","seg":"6b","day":66.9,"value":25},{"series":"AG-6 -","seg":"6b","day":68.8,"value":27},{"series":"AG-6 -","seg":"6b","day":70.8,"value":24},{"series":"AG-6 -","seg":"6b","day":72.3,"value":26},{"series":"AG-6 -","seg":"6b","day":73.5,"value":43},{"series":"AG-6 -","seg":"6b","day":74.6,"value":26},{"series":"AG-6 -","seg":"6b","day":76.5,"value":25},{"series":"AG-6 -","seg":"6b","day":78.5,"value":24},{"series":"AG-6 -","seg":"6b","day":80.4,"value":26},{"series":"AG-6 -","seg":"6b","day":82.3,"value":25},{"series":"AG-6 -","seg":"6b","day":84.2,"value":27},{"series":"AG-6 -","seg":"6b","day":86.2,"value":25},{"series":"AG-6 -","seg":"6b","day":87.7,"value":30},{"series":"AG-6 -","seg":"6b","day":89.6,"value":26},{"series":"AG-6 -","seg":"6b","day":91.5,"value":25},{"series":"AG-6 -","seg":"6b","day":93.5,"value":27},{"series":"AG-6 -","seg":"6b","day":94.6,"value":30},{"series":"AG-6 -","seg":"6b","day":96.2,"value":26},{"series":"AG-6 -","seg":"6b","day":98.1,"value":25},{"series":"AG-6 -","seg":"6b","day":100.0,"value":26},{"series":"AG-6 -","seg":"6b","day":101.9,"value":24},{"series":"AG-6 -","seg":"6b","day":103.8,"value":28},{"series":"AG-6 -","seg":"6b","day":105.8,"value":33},{"series":"AG-6 -","seg":"6b","day":107.7,"value":30},{"series":"AG-6 -","seg":"6b","day":109.6,"value":35},{"series":"AG-6 -","seg":"6b","day":111.5,"value":32},{"series":"AG-6 -","seg":"6b","day":113.5,"value":27},{"series":"AG-6 -","seg":"6b","day":115.4,"value":26},{"series":"AG-6 -","seg":"6b","day":117.3,"value":28},{"series":"AG-6 -","seg":"6b","day":118.8,"value":40},{"series":"AG-6 -","seg":"6b","day":120.0,"value":42},{"series":"AG-6 -","seg":"6b","day":121.5,"value":28},{"series":"AG-6 -","seg":"6b","day":123.5,"value":26},{"series":"AG-6 -","seg":"6b","day":125.4,"value":27},{"series":"AG-6 -","seg":"6b","day":127.3,"value":25},{"series":"AG-6 -","seg":"6b","day":129.2,"value":27},{"series":"AG-6 -","seg":"6b","day":131.2,"value":26},{"series":"AG-6 -","seg":"6b","day":132.7,"value":28},{"series":"AG-6 -","seg":"6b","day":135.0,"value":26},{"series":"AG-6 -","seg":"6b","day":136.9,"value":27},{"series":"AG-6 -","seg":"6b","day":138.8,"value":25},{"series":"AG-6 -","seg":"6b","day":140.8,"value":28},{"series":"AG-6 -","seg":"6b","day":142.7,"value":26},{"series":"AG-6 -","seg":"6b","day":144.6,"value":27},{"series":"AG-6 -","seg":"6b","day":146.5,"value":25},{"series":"AG-6 -","seg":"6b","day":148.5,"value":28},{"series":"AG-6 -","seg":"6b","day":150.4,"value":26},{"series":"AG-6 -","seg":"6b","day":152.3,"value":27},{"series":"AG-6 -","seg":"6b","day":154.2,"value":25},{"series":"AG-6 -","seg":"6b","day":156.2,"value":28},{"series":"AG-6 -","seg":"6b","day":158.1,"value":26},{"series":"AG-6 -","seg":"6b","day":160.0,"value":27},{"series":"AG-6 -","seg":"6b","day":161.9,"value":29},{"series":"AG-6 -","seg":"6b","day":163.8,"value":26},{"series":"AG-6 -","seg":"6b","day":165.8,"value":28},{"series":"AG-6 -","seg":"6b","day":167.7,"value":27},{"series":"AG-6 -","seg":"6b","day":169.6,"value":26},{"series":"AG-6 -","seg":"6b","day":171.5,"value":30},{"series":"AG-6 -","seg":"6b","day":172.3,"value":45},{"series":"AG-6 -","seg":"6b","day":173.5,"value":30},{"series":"AG-6 -","seg":"6b","day":175.4,"value":27},{"series":"AG-6 -","seg":"6b","day":177.3,"value":26},{"series":"AG-6 -","seg":"6b","day":179.2,"value":28},{"series":"AG-6 -","seg":"6b","day":181.2,"value":26},{"series":"AG-6 -","seg":"6b","day":183.1,"value":25},{"series":"AG-6 -","seg":"6b","day":184.2,"value":30},{"series":"AG-6 -","seg":"6b","day":185.8,"value":27},{"series":"AG-6 -","seg":"6b","day":187.7,"value":26},{"series":"AG-6 -","seg":"6b","day":189.6,"value":28},{"series":"AG-6 -","seg":"6b","day":191.5,"value":27},{"series":"AG-6 -","seg":"6b","day":193.5,"value":26},{"series":"AG-6 -","seg":"6b","day":195.4,"value":28},{"series":"AG-6 -","seg":"6b","day":197.3,"value":26},{"series":"AG-6 -","seg":"6b","day":199.6,"value":38},{"series":"AG-6 -","seg":"6b","day":200.4,"value":28},{"series":"AG-6 -","seg":"6b","day":202.3,"value":26},{"series":"AG-6 -","seg":"6b","day":204.2,"value":33},{"series":"AG-6 -","seg":"6b","day":205.8,"value":27},{"series":"AG-6 -","seg":"6b","day":207.7,"value":26},{"series":"AG-6 -","seg":"6b","day":209.6,"value":28},{"series":"AG-6 -","seg":"6b","day":211.5,"value":27},{"series":"AG-6 -","seg":"6b","day":213.5,"value":29},{"series":"AG-6 -","seg":"6b","day":215.4,"value":26},{"series":"AG-6 -","seg":"6b","day":217.3,"value":28},{"series":"AG-6 -","seg":"6b","day":219.2,"value":27},{"series":"AG-6 -","seg":"6b","day":221.2,"value":32},{"series":"AG-6 -","seg":"6b","day":222.7,"value":27},{"series":"AG-6 -","seg":"6b","day":224.6,"value":26},{"series":"AG-6 -","seg":"6b","day":226.5,"value":28},{"series":"AG-6 -","seg":"6b","day":228.5,"value":26},{"series":"AG-6 -","seg":"6b","day":230.4,"value":27},{"series":"AG-6 -","seg":"6b","day":232.3,"value":25},{"series":"AG-6 -","seg":"6b","day":234.2,"value":27},{"series":"AG-6 -","seg":"6b","day":236.5,"value":26},{"series":"AG-6 -","seg":"6b","day":238.5,"value":27},{"series":"AG-6 -","seg":"6b","day":240.4,"value":25},{"series":"AG-6 -","seg":"6b","day":242.3,"value":28},{"series":"AG-6 -","seg":"6b","day":243.1,"value":35},{"series":"AG-6 -","seg":"6b","day":244.2,"value":27},{"series":"AG-6 -","seg":"6b","day":246.2,"value":26},{"series":"AG-6 -","seg":"6b","day":248.1,"value":28},{"series":"AG-6 -","seg":"6b","day":250.0,"value":27},{"series":"AG-6 -","seg":"6b","day":252.3,"value":30},{"series":"AG-6 -","seg":"6b","day":253.5,"value":50},{"series":"AG-6 -","seg":"6b","day":254.6,"value":30},{"series":"AG-6 -","seg":"6b","day":256.2,"value":28},{"series":"AG-6 -","seg":"6b","day":256.9,"value":40},{"series":"AG-6 -","seg":"6b","day":258.1,"value":28},{"series":"AG-6 -","seg":"6b","day":260.0,"value":27},{"series":"AG-6 -","seg":"6b","day":260.4,"value":35},{"series":"AG-6 -","seg":"6b","day":261.9,"value":27},{"series":"AG-6 -","seg":"6b","day":263.8,"value":26},{"series":"AG-6 -","seg":"6b","day":265.8,"value":27},{"series":"AG-6 -","seg":"6b","day":267.7,"value":25},{"series":"AG-6 -","seg":"6b","day":269.6,"value":27},{"series":"AG-6 -","seg":"6b","day":271.5,"value":26},{"series":"AG-6 -","seg":"6b","day":273.5,"value":28},{"series":"AG-6 -","seg":"6b","day":275.4,"value":27},{"series":"AG-6 -","seg":"6b","day":277.3,"value":26},{"series":"AG-6 -","seg":"6b","day":279.2,"value":27},{"series":"AG-6 -","seg":"6b","day":281.2,"value":26},{"series":"AG-6 -","seg":"6b","day":283.1,"value":28},{"series":"AG-6 -","seg":"6b","day":285.0,"value":27},{"series":"AG-6 -","seg":"6b","day":286.9,"value":28},{"series":"AG-6 -","seg":"6b","day":288.8,"value":27},{"series":"AG-6 -","seg":"6b","day":290.8,"value":28},{"series":"AG-6 -","seg":"6b","day":292.3,"value":40},{"series":"AG-6 -","seg":"6b","day":293.5,"value":45},{"series":"AG-6 -","seg":"6b","day":294.6,"value":30},{"series":"AG-6 -","seg":"6b","day":296.5,"value":27},{"series":"AG-6 -","seg":"6b","day":298.5,"value":28},{"series":"AG-6 -","seg":"6b","day":300.4,"value":33},{"series":"AG-6 -","seg":"6b","day":301.9,"value":28},{"series":"AG-6 -","seg":"6b","day":303.8,"value":27},{"series":"AG-6 -","seg":"6b","day":305.8,"value":29},{"series":"AG-6 -","seg":"6b","day":307.7,"value":35},{"series":"AG-6 -","seg":"6b","day":309.2,"value":28},{"series":"AG-6 -","seg":"6b","day":311.2,"value":27},{"series":"AG-6 -","seg":"6b","day":313.1,"value":29},{"series":"AG-6 -","seg":"6b","day":314.6,"value":38},{"series":"AG-6 -","seg":"6b","day":316.2,"value":29},{"series":"AG-6 -","seg":"6b","day":318.1,"value":28},{"series":"AG-6 -","seg":"6b","day":319.6,"value":29},{"series":"AG-6 -","seg":"6b","day":321.9,"value":32},{"series":"AG-6 -","seg":"6b","day":323.5,"value":28},{"series":"AG-6 -","seg":"6b","day":325.0,"value":25},
{"series":"AG-6 -","seg":"6c","day":330.0,"value":3},{"series":"AG-6 -","seg":"6c","day":331.9,"value":4},{"series":"AG-6 -","seg":"6c","day":333.8,"value":5},{"series":"AG-6 -","seg":"6c","day":335.4,"value":12},{"series":"AG-6 -","seg":"6c","day":336.9,"value":5},{"series":"AG-6 -","seg":"6c","day":338.8,"value":4},{"series":"AG-6 -","seg":"6c","day":340.8,"value":6},{"series":"AG-6 -","seg":"6c","day":342.3,"value":20},{"series":"AG-6 -","seg":"6c","day":343.5,"value":8},{"series":"AG-6 -","seg":"6c","day":345.4,"value":4},{"series":"AG-6 -","seg":"6c","day":347.3,"value":5},{"series":"AG-6 -","seg":"6c","day":349.2,"value":3},{"series":"AG-6 -","seg":"6c","day":351.2,"value":5},{"series":"AG-6 -","seg":"6c","day":353.1,"value":4},{"series":"AG-6 -","seg":"6c","day":355.0,"value":6},{"series":"AG-6 -","seg":"6c","day":356.9,"value":4},{"series":"AG-6 -","seg":"6c","day":358.8,"value":5},{"series":"AG-6 -","seg":"6c","day":360.8,"value":3},{"series":"AG-6 -","seg":"6c","day":362.7,"value":5},{"series":"AG-6 -","seg":"6c","day":364.6,"value":4},{"series":"AG-6 -","seg":"6c","day":366.5,"value":6},{"series":"AG-6 -","seg":"6c","day":368.5,"value":4},{"series":"AG-6 -","seg":"6c","day":370.4,"value":5},{"series":"AG-6 -","seg":"6c","day":372.3,"value":3},{"series":"AG-6 -","seg":"6c","day":374.2,"value":5},{"series":"AG-6 -","seg":"6c","day":376.2,"value":4},{"series":"AG-6 -","seg":"6c","day":377.3,"value":5},
{"series":"hourly limit","seg":"L","day":0,"value":350},{"series":"hourly limit","seg":"L","day":386,"value":350}
]},
"mark":{"type":"line","strokeWidth":5.5,"strokeJoin":"round","strokeCap":"round","clip":true},
"encoding":{
 "x":{"field":"day","type":"quantitative","scale":{"domain":[0,386],"nice":false,"zero":false},
  "axis":{"title":null,"values":[0,29,58,87,116,145,174,203,232,261,290,319,348],
   "labelExpr":"['01.ian.15','30.ian.15','28.feb.15','29.mar.15','27.apr.15','26.mai.15','24.iun.15','23.iul.15','21.aug.15','19.sep.15','18.oct.15','16.nov.15','15.dec.15'][round(datum.value/29)]",
   "labelAngle":-50,"labelAlign":"right","labelBaseline":"top","labelFontSize":21,"labelPadding":4,"labelOffset":-6,"ticks":false,"tickSize":0,"grid":false,
   "domainColor":"#000000","domainWidth":7,"offset":3.5,"labelOverlap":false,"labelBound":false,"labelFlush":false}},
 "y":{"field":"value","type":"quantitative","scale":{"domain":[0,400],"nice":false},
  "axis":{"title":null,"values":[0,50,100,150,200,250,300,350,400],"format":".1f","labelFontSize":22,"labelPadding":12,
   "tickSize":8,"tickColor":"#808080","grid":true,"gridColor":"#606060","gridWidth":1,"domainColor":"#000000","labelOverlap":false}},
 "color":{"field":"series","type":"nominal",
  "scale":{"domain":["AG-1 -","AG-2 -","AG-3 -","AG-4 -","AG-5 -","AG-6 -","hourly limit"],"range":["#008000","#FF00FF","#FFFF00","#0099FF","#FF9933","#99FF66","#FF0000"]},
  "legend":{"title":null,"orient":"none","legendX":-50,"legendY":470,"direction":"horizontal","columns":7,"symbolType":"stroke","symbolSize":3025,"symbolStrokeWidth":5,"labelFontSize":19,"labelFont":"DejaVu Sans","labelColor":"#000000","columnPadding":17,"labelOffset":4,"labelLimit":300}},
 "detail":{"field":"seg"}
}
}
